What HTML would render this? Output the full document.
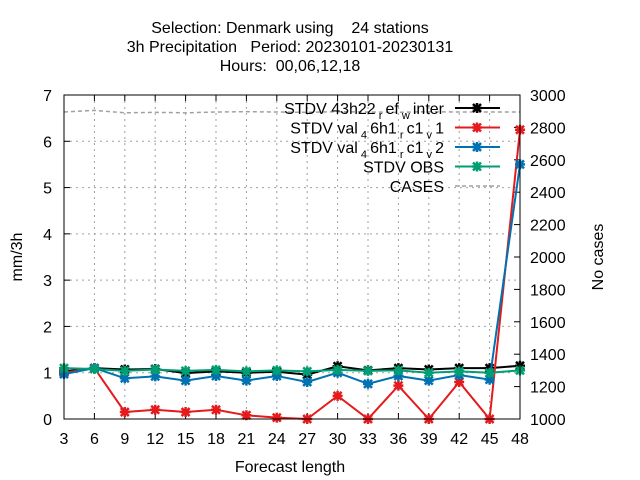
<!DOCTYPE html>
<html><head><meta charset="utf-8"><style>
body{margin:0;background:#fff}
svg{display:block;font-family:"Liberation Sans",sans-serif}
</style></head><body>
<svg id="c" width="640" height="480">
<g font-size="16" text-anchor="middle">
<text x="290" y="33" xml:space="preserve">Selection: Denmark using    24 stations</text>
<text x="290" y="52" xml:space="preserve">3h Precipitation   Period: 20230101-20230131</text>
<text x="290" y="71" xml:space="preserve">Hours:  00,06,12,18</text>
</g>
<g id="grid"></g>
<g id="axes"></g>
<g id="series"></g>
<rect x="64" y="95" width="456" height="324" fill="none" stroke="#000"/>
<text x="290" y="472" font-size="16" text-anchor="middle">Forecast length</text>
<text transform="translate(22,257) rotate(-90)" font-size="16" text-anchor="middle">mm/3h</text>
<text transform="translate(603,257) rotate(-90)" font-size="16" text-anchor="middle">No cases</text>
<g id="legend" font-size="16" text-anchor="end"></g>
</svg>
<script>
const hours=[3,6,9,12,15,18,21,24,27,30,33,36,39,42,45,48];
const black=[1.03,1.1,1.07,1.08,0.99,1.03,1.0,1.02,0.96,1.14,1.05,1.1,1.07,1.1,1.1,1.15];
const red=[1.0,1.1,0.15,0.2,0.15,0.2,0.08,0.03,0.0,0.5,0.0,0.72,0.0,0.8,0.0,6.25];
const blue=[0.97,1.1,0.88,0.92,0.83,0.93,0.83,0.93,0.8,1.0,0.76,0.93,0.83,0.95,0.85,5.5];
const green=[1.1,1.08,1.04,1.07,1.04,1.06,1.03,1.05,1.03,1.06,1.04,1.05,1.0,1.03,1.0,1.05];
const cases=[2895,2905,2890,2893,2890,2895,2897,2895,2893,2897,2895,2893,2897,2895,2895,2895];
const yTicks=[0,1,2,3,4,5,6,7];
const y2Ticks=[1000,1200,1400,1600,1800,2000,2200,2400,2600,2800,3000];
const NS="http://www.w3.org/2000/svg";
const X=v=>64+(v-3)/45*456, Y=v=>419-v/7*324, Y2=v=>419-(v-1000)/2000*324;
function mk(t,a,p){const e=document.createElementNS(NS,t);for(const k in a)e.setAttribute(k,a[k]);p.appendChild(e);return e;}
const grid=document.getElementById('grid'),axes=document.getElementById('axes'),ser=document.getElementById('series'),leg=document.getElementById('legend');
hours.forEach(h=>{const x=X(h);
 if(h>3&&h<48){const l=mk('line',{x1:x,x2:x,y1:95,y2:419,stroke:'#a0a0a0','stroke-dasharray':'2,4'},grid);
 
 }
 mk('line',{x1:x,x2:x,y1:419,y2:413,stroke:'#000'},axes);mk('line',{x1:x,x2:x,y1:95,y2:101,stroke:'#000'},axes);
 const t=mk('text',{x:x,y:444,'font-size':16,'text-anchor':'middle'},axes);t.textContent=h;
 
 });
yTicks.forEach(v=>{const y=Y(v);
 if(v>0&&v<7){const l=mk('line',{x1:64,x2:520,y1:y,y2:y,stroke:'#a0a0a0','stroke-dasharray':'2,4'},grid);
 
 }
 mk('line',{x1:64,x2:70,y1:y,y2:y,stroke:'#000'},axes);
 const t=mk('text',{x:52,y:y+6,'font-size':16,'text-anchor':'end'},axes);t.textContent=v;
 
 });
y2Ticks.forEach(v=>{const y=Y2(v);
 mk('line',{x1:514,x2:520,y1:y,y2:y,stroke:'#000'},axes);
 const t=mk('text',{x:530,y:y+6,'font-size':16},axes);t.textContent=v;
 
 });
function star(x,y,c,p){mk('path',{d:`M${x-4},${y-4}L${x+4},${y+4}M${x-4},${y+4}L${x+4},${y-4}M${x-5},${y}L${x+5},${y}M${x},${y-5}L${x},${y+5}`,stroke:c,'stroke-width':2.5},p);}
const cp=mk('polyline',{points:cases.map((v,i)=>X(hours[i])+','+Y2(v)).join(' '),fill:'none',stroke:'#a0a0a0','stroke-width':1.5,'stroke-dasharray':'4,3'},ser);


[[black,'#000','black'],[red,'#e41a1c','red'],[blue,'#0072b2','blue'],[green,'#009e73','green']].forEach(([d,c,n])=>{
 const g=mk('g',{},ser);
 
 
 mk('polyline',{points:d.map((v,i)=>X(hours[i])+','+Y(v)).join(' '),fill:'none',stroke:c,'stroke-width':2},g);
 d.forEach((v,i)=>star(X(hours[i]),Y(v),c,g));});
const S=(s)=>`<tspan dy="5" font-size="11"> ${s} </tspan><tspan dy="-5">`;
const items=[['STDV 43h22'+S('r')+'ef'+S('w')+'inter</tspan></tspan>','#000',0],
['STDV val'+S('4')+'6h1'+S('r')+'c1'+S('v')+'1</tspan></tspan></tspan>','#e41a1c',0],
['STDV val'+S('4')+'6h1'+S('r')+'c1'+S('v')+'2</tspan></tspan></tspan>','#0072b2',0],
['STDV OBS','#009e73',0],['CASES','#a0a0a0',1]];
items.forEach((it,i)=>{const y=108+i*19.5;const g=mk('g',{},leg);
 
 
 const t=mk('text',{x:444,y:y+6},g);t.innerHTML=it[0];
 if(it[2])mk('line',{x1:455,x2:500,y1:y,y2:y,stroke:it[1],'stroke-width':1.5,'stroke-dasharray':'4,3'},g);
 else{mk('line',{x1:455,x2:500,y1:y,y2:y,stroke:it[1],'stroke-width':2},g);star(477,y,it[1],g);}});
</script>
</body></html>
